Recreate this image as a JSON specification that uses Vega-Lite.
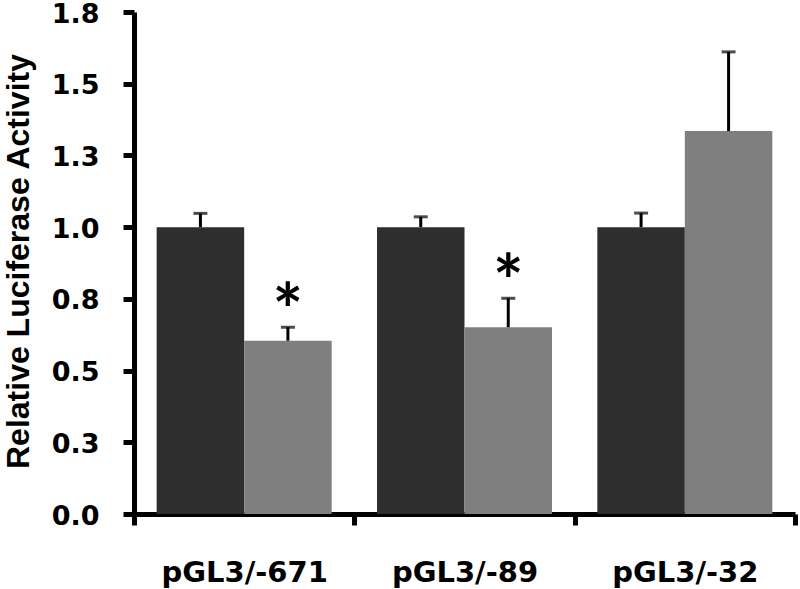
{
  "$schema": "https://vega.github.io/schema/vega-lite/v6.json",
  "width": 661,
  "height": 502,
  "autosize": {"type": "none"},
  "padding": {"left": 134, "top": 12, "right": 5, "bottom": 75},
  "background": "white",
  "config": {"view": {"stroke": null}},
  "data": {
    "values": [
      {"group": "pGL3/-671", "series": "A", "value": 1.0, "upper": 1.048, "sig": ""},
      {"group": "pGL3/-671", "series": "B", "value": 0.604, "upper": 0.651, "sig": "*"},
      {"group": "pGL3/-89", "series": "A", "value": 1.0, "upper": 1.036, "sig": ""},
      {"group": "pGL3/-89", "series": "B", "value": 0.651, "upper": 0.752, "sig": "*"},
      {"group": "pGL3/-32", "series": "A", "value": 1.0, "upper": 1.049, "sig": ""},
      {"group": "pGL3/-32", "series": "B", "value": 1.335, "upper": 1.611, "sig": ""}
    ]
  },
  "encoding": {
    "x": {
      "field": "group",
      "type": "nominal",
      "sort": null,
      "scale": {"paddingInner": 0, "paddingOuter": 0},
      "axis": {
        "title": null,
        "labelAngle": 0,
        "labelFont": "DejaVu Sans",
        "labelFontWeight": "bold",
        "labelFontSize": 29,
        "labelColor": "black",
        "labelBaseline": "alphabetic",
        "labelPadding": 56,
        "tickBand": "extent",
        "tickExtra": true,
        "tickColor": "black",
        "tickWidth": 5,
        "tickSize": 11,
        "domainColor": "black",
        "domainWidth": 5
      }
    },
    "xOffset": {
      "field": "series",
      "type": "nominal",
      "scale": {"paddingInner": 0, "paddingOuter": 0.259}
    },
    "y": {
      "field": "value",
      "type": "quantitative",
      "scale": {"domain": [0, 1.75], "nice": false},
      "axis": {
        "title": "Relative Luciferase Activity",
        "values": [0, 0.25, 0.5, 0.75, 1.0, 1.25, 1.5, 1.75],
        "format": ".1f",
        "grid": false,
        "labelFont": "DejaVu Sans",
        "labelFontWeight": "bold",
        "labelFontSize": 27,
        "labelColor": "black",
        "labelPadding": 24,
        "labelOffset": 2,
        "labelBound": false,
        "tickColor": "black",
        "tickWidth": 5,
        "tickSize": 11,
        "domainColor": "black",
        "domainWidth": 5,
        "titleFont": "Liberation Sans",
        "titleFontWeight": "bold",
        "titleFontSize": 32,
        "titleColor": "black",
        "titleAngle": -90,
        "titleAlign": "center",
        "titleBaseline": "alphabetic",
        "titleX": -106,
        "titleY": 249
      }
    }
  },
  "layer": [
    {
      "mark": {"type": "bar", "binSpacing": 0},
      "encoding": {
        "color": {
          "field": "series",
          "type": "nominal",
          "scale": {"domain": ["A", "B"], "range": ["#2e2e2e", "#7f7f7f"]},
          "legend": null
        }
      }
    },
    {
      "mark": {"type": "rule", "color": "black", "strokeWidth": 3, "xOffset": 2},
      "encoding": {
        "y": {"field": "value", "type": "quantitative"},
        "y2": {"field": "upper"}
      }
    },
    {
      "mark": {"type": "tick", "color": "black", "size": 14, "thickness": 3, "orient": "horizontal", "xOffset": 2},
      "encoding": {
        "y": {"field": "upper", "type": "quantitative"}
      }
    },
    {
      "mark": {"type": "text", "font": "Lato", "fontWeight": "bold", "fontSize": 72, "color": "black", "baseline": "middle", "dy": -12, "xOffset": 2},
      "encoding": {
        "y": {"field": "upper", "type": "quantitative"},
        "text": {"field": "sig"}
      }
    }
  ]
}
